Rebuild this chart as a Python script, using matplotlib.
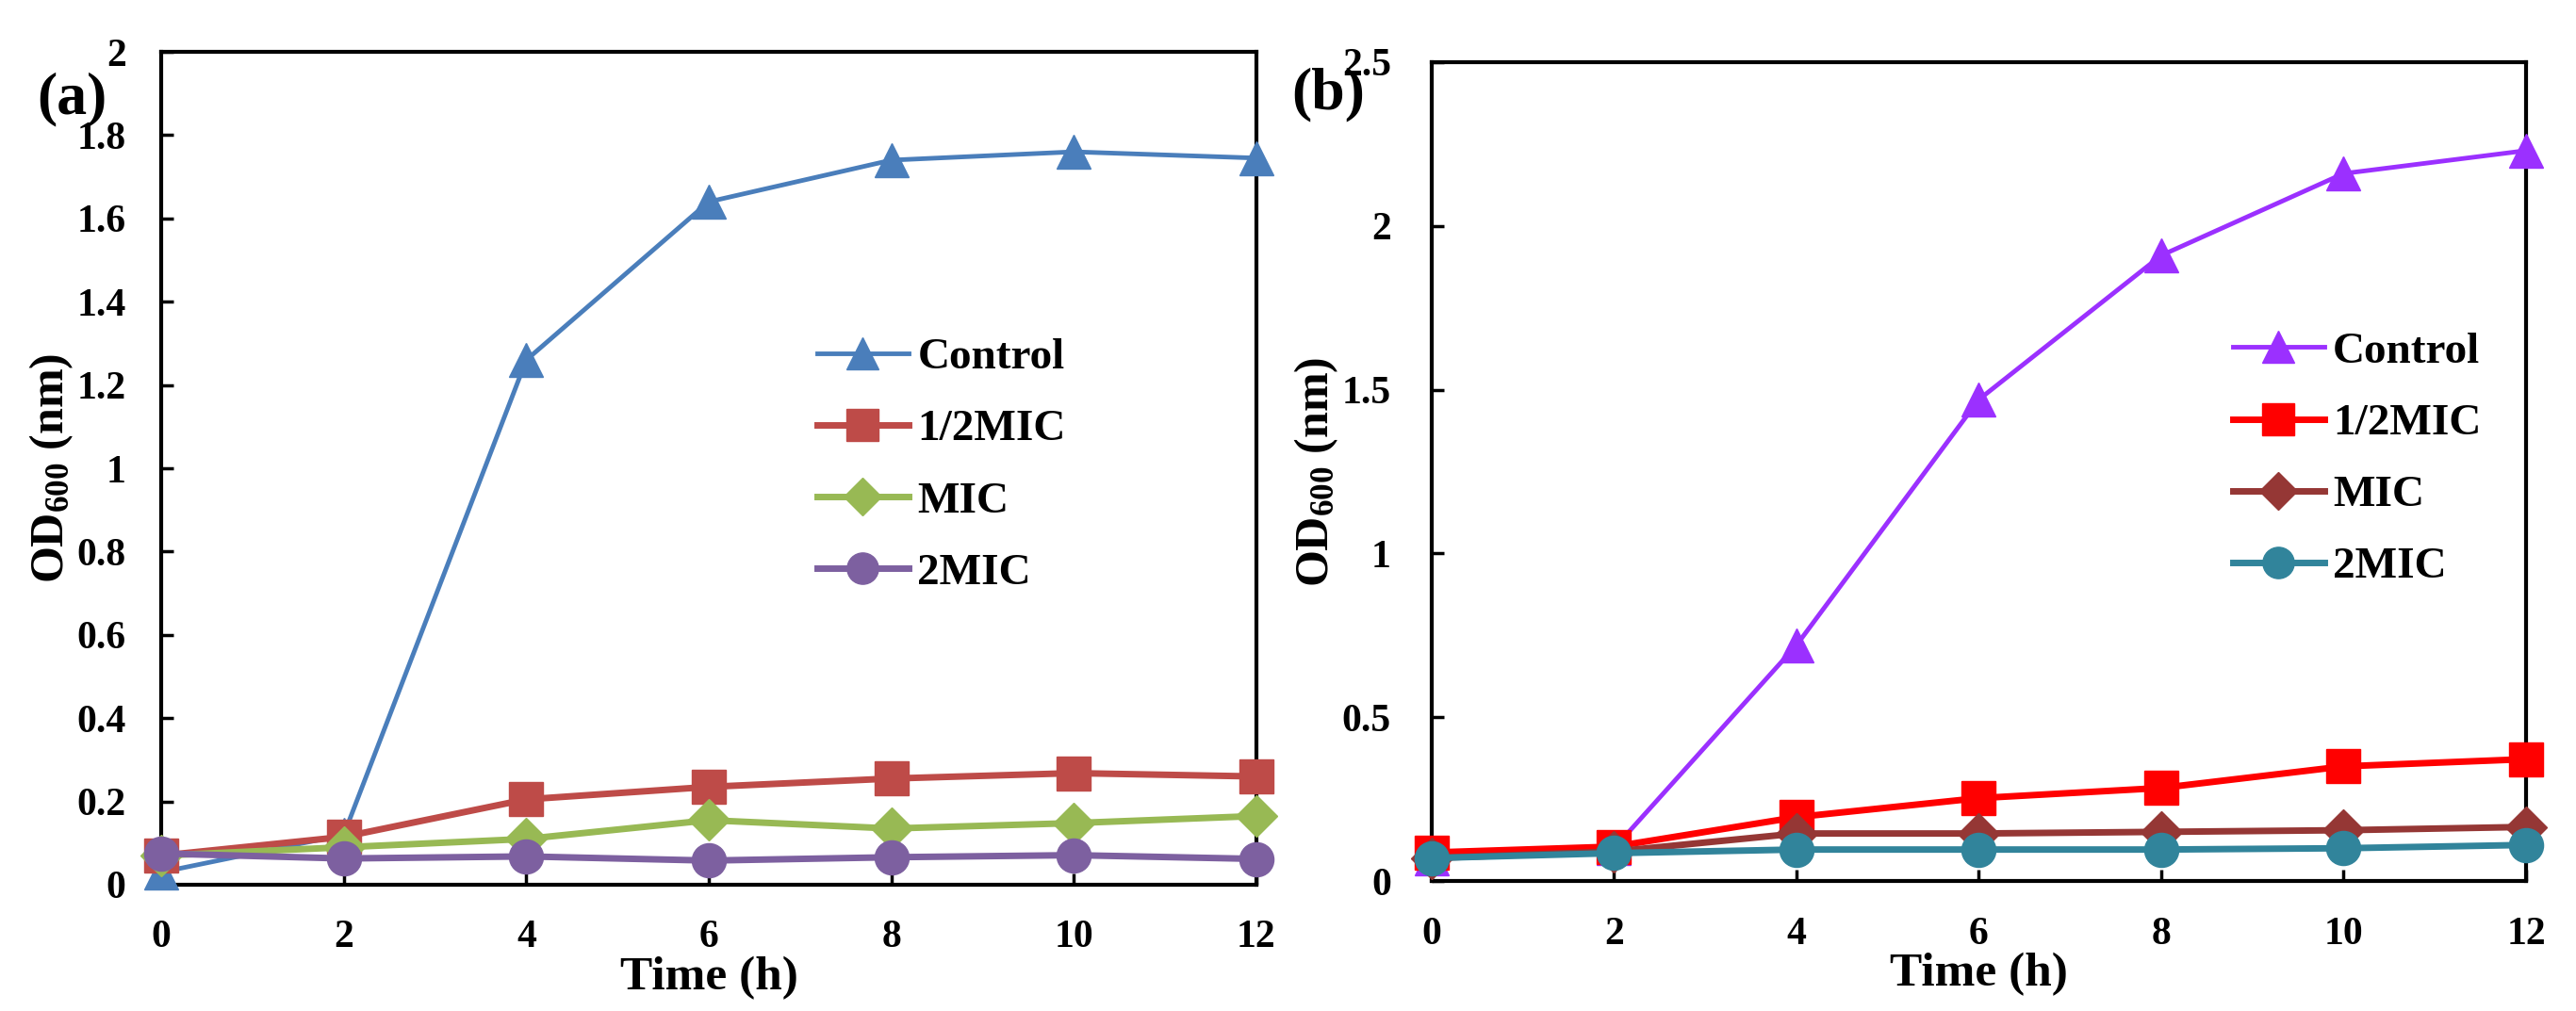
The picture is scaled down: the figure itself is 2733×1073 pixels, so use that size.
import matplotlib
matplotlib.use("Agg")
import matplotlib.pyplot as plt

plt.rcParams['font.family'] = ['Liberation Serif', 'DejaVu Serif']
plt.rcParams['font.weight'] = 'bold'
plt.rcParams['mathtext.fontset'] = 'custom'
plt.rcParams['mathtext.rm'] = 'Liberation Serif:bold'
plt.rcParams['mathtext.bf'] = 'Liberation Serif:bold'
plt.rcParams['mathtext.it'] = 'Liberation Serif:bold:italic'

time_h = [0, 2, 4, 6, 8, 10, 12]
labels = ["Control", "1/2MIC", "MIC", "2MIC"]
markers = ["^", "s", "D", "o"]

# panel (a)
a_control = [0.03, 0.12, 1.26, 1.64, 1.74, 1.76, 1.745]
a_half = [0.07, 0.115, 0.205, 0.235, 0.255, 0.268, 0.26]
a_mic = [0.07, 0.09, 0.11, 0.155, 0.135, 0.148, 0.165]
a_2mic = [0.075, 0.063, 0.068, 0.058, 0.066, 0.071, 0.062]
a_colors = ["#4A7EBB", "#BE4B48", "#98B954", "#7D60A0"]

# panel (b)
b_control = [0.07, 0.10, 0.72, 1.47, 1.91, 2.16, 2.23]
b_half = [0.087, 0.105, 0.195, 0.253, 0.284, 0.35, 0.372]
b_mic = [0.07, 0.09, 0.145, 0.145, 0.15, 0.155, 0.165]
b_2mic = [0.07, 0.085, 0.096, 0.096, 0.096, 0.10, 0.11]
b_colors = ["#9B30FF", "#FF0000", "#953735", "#31849B"]

a_yticks = [0, 0.2, 0.4, 0.6, 0.8, 1, 1.2, 1.4, 1.6, 1.8, 2]
a_yticklabels = ["0", "0.2", "0.4", "0.6", "0.8", "1", "1.2", "1.4", "1.6", "1.8", "2"]
b_yticks = [0, 0.5, 1, 1.5, 2, 2.5]
b_yticklabels = ["0", "0.5", "1", "1.5", "2", "2.5"]

fig = plt.figure(figsize=(27.33, 10.73), dpi=100)
ax_a = fig.add_axes([0.0626, 0.1249, 0.4251, 0.8238])
ax_b = fig.add_axes([0.5558, 0.1286, 0.4248, 0.8099])


def draw_panel(ax, series, colors, ylim, yticks, yticklabels, leg_anchor, ypad):
    for i, y in enumerate(series):
        lw = 3.5 if i == 0 else 5
        ms = 26 if markers[i] != "D" else 22
        ax.plot(time_h, y, color=colors[i], marker=markers[i], markersize=ms,
                linewidth=lw, label=labels[i], clip_on=False, zorder=3 + i)
    ax.set_xlim(0, 12)
    ax.set_ylim(*ylim)
    ax.set_xticks(time_h)
    ax.set_xticklabels([str(t) for t in time_h])
    ax.set_yticks(yticks)
    ax.set_yticklabels(yticklabels)
    ax.tick_params(axis="both", direction="in", length=9, width=2.5,
                   labelsize=30)
    ax.tick_params(axis="x", pad=27)
    ax.tick_params(axis="y", pad=ypad)
    for s in ax.spines.values():
        s.set_linewidth(3)
        s.set_zorder(2)
    ax.set_xlabel("Time (h)", fontsize=37, fontweight="bold", labelpad=0)
    ax.set_ylabel("OD$_{600}$ (nm)", fontsize=36, fontweight="bold", labelpad=1)
    ax.legend(loc="upper left", bbox_to_anchor=leg_anchor, frameon=False,
              fontsize=34, handlelength=2.05, handletextpad=0.2,
              labelspacing=0.70, borderpad=0, borderaxespad=0, markerscale=0.92)


draw_panel(ax_a, [a_control, a_half, a_mic, a_2mic], a_colors, (0, 2),
           a_yticks, a_yticklabels, (0.599, 0.657), 27)
draw_panel(ax_b, [b_control, b_half, b_mic, b_2mic], b_colors, (0, 2.5),
           b_yticks, b_yticklabels, (0.732, 0.671), 31)

fig.text(76 / 2733, 1 - 105 / 1073, "(a)", fontsize=46, fontweight="bold",
         ha="center", va="center")
fig.text(1409 / 2733, 1 - 100 / 1073, "(b)", fontsize=46, fontweight="bold",
         ha="center", va="center")

fig.savefig("out.png", dpi=100)
